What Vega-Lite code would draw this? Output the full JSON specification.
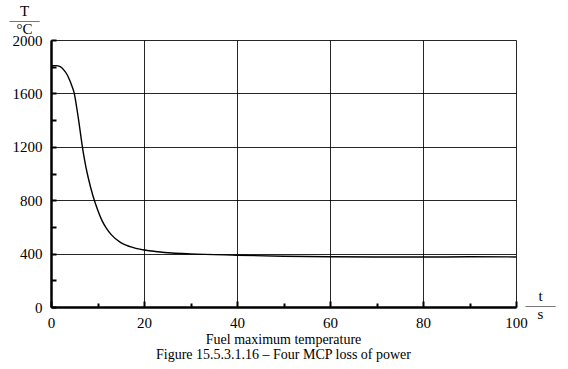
{
  "$schema": "https://vega.github.io/schema/vega-lite/v6.json",
  "width": 465,
  "height": 267,
  "autosize": "none",
  "padding": {"left": 51, "top": 40, "right": 52, "bottom": 62},
  "background": "white",
  "config": {
    "view": {"stroke": null},
    "font": "Liberation Serif",
    "axis": {"labelFont": "Liberation Serif", "titleFont": "Liberation Serif"}
  },
  "title": {
    "text": ["Fuel maximum temperature", "Figure 15.5.3.1.16 – Four MCP loss of power"],
    "orient": "bottom",
    "anchor": "middle",
    "font": "Liberation Serif",
    "fontSize": 14,
    "fontWeight": "normal",
    "color": "#000",
    "offset": 3,
    "lineHeight": 15
  },
  "data": {
    "values": [
      {"t": 0, "T": 1807}, {"t": 1, "T": 1808}, {"t": 2, "T": 1800}, {"t": 3, "T": 1765},
      {"t": 3.5, "T": 1738}, {"t": 4, "T": 1700}, {"t": 4.5, "T": 1655}, {"t": 5, "T": 1600},
      {"t": 5.5, "T": 1500}, {"t": 6, "T": 1385}, {"t": 6.5, "T": 1260}, {"t": 7, "T": 1145},
      {"t": 7.5, "T": 1050}, {"t": 8, "T": 970}, {"t": 9, "T": 835}, {"t": 10, "T": 730},
      {"t": 11, "T": 645}, {"t": 12, "T": 585}, {"t": 13, "T": 540}, {"t": 15, "T": 482},
      {"t": 17, "T": 452}, {"t": 20, "T": 427}, {"t": 23, "T": 414}, {"t": 26, "T": 405},
      {"t": 30, "T": 398}, {"t": 40, "T": 388}, {"t": 50, "T": 380}, {"t": 60, "T": 376},
      {"t": 70, "T": 374}, {"t": 80, "T": 374}, {"t": 90, "T": 376}, {"t": 100, "T": 375}
    ]
  },
  "mark": {"type": "line", "color": "#000", "strokeWidth": 1.4, "interpolate": "monotone"},
  "encoding": {
    "x": {
      "field": "t", "type": "quantitative",
      "scale": {"domain": [0, 100], "nice": false},
      "axis": {
        "values": [0, 10, 20, 30, 40, 50, 60, 70, 80, 90, 100],
        "labelExpr": "datum.value % 20 === 0 ? datum.label : ''",
        "title": ["t", "——", "s"],
        "titleAngle": 0,
        "titleAlign": "center",
        "titleBaseline": "top",
        "titleX": 489,
        "titleY": -19,
        "titleFont": "Liberation Serif",
        "titleFontSize": 15,
        "titleFontWeight": "normal",
        "titleLineHeight": 9,
        "titleColor": "#000",
        "labelFont": "Liberation Serif",
        "labelFontSize": 15,
        "labelColor": "#000",
        "labelPadding": 14,
        "labelFlush": false,
        "domainColor": "#000",
        "domainWidth": 2.5,
        "tickColor": "#000",
        "tickWidth": 2,
        "tickSize": {"condition": {"test": "datum.value % 20 === 0", "value": -6}, "value": -4},
        "grid": true,
        "gridColor": "#000",
        "gridWidth": 1,
        "gridOpacity": {"condition": {"test": "datum.value % 20 === 0", "value": 0.85}, "value": 0}
      }
    },
    "y": {
      "field": "T", "type": "quantitative",
      "scale": {"domain": [0, 2000], "nice": false},
      "axis": {
        "values": [0, 200, 400, 600, 800, 1000, 1200, 1400, 1600, 1800, 2000],
        "labelExpr": "datum.value % 400 === 0 ? datum.label : ''",
        "format": "d",
        "title": ["T", "——", "°C"],
        "titleAngle": 0,
        "titleAlign": "center",
        "titleBaseline": "top",
        "titleX": -27,
        "titleY": -37,
        "titleFont": "Liberation Serif",
        "titleFontSize": 15,
        "titleFontWeight": "normal",
        "titleLineHeight": 9,
        "titleColor": "#000",
        "labelFont": "Liberation Serif",
        "labelFontSize": 15,
        "labelColor": "#000",
        "labelPadding": 14,
        "domainColor": "#000",
        "domainWidth": 2.5,
        "tickColor": "#000",
        "tickWidth": 2,
        "tickSize": -5,
        "grid": true,
        "gridColor": "#000",
        "gridWidth": 1,
        "gridOpacity": {"condition": {"test": "datum.value % 400 === 0", "value": 0.85}, "value": 0}
      }
    }
  }
}
